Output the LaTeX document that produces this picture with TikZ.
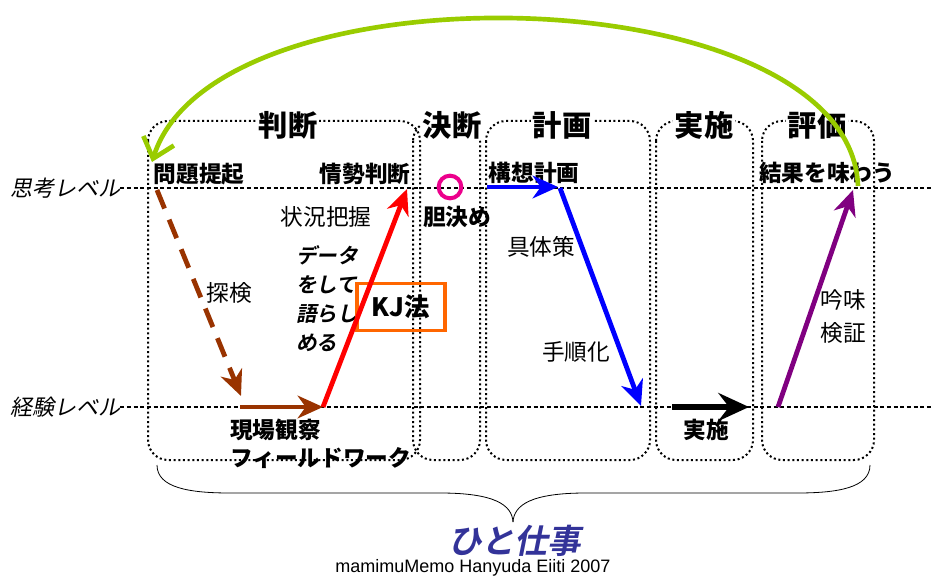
\documentclass[tikz,border=0pt]{standalone}
\usepackage{fontspec}
\setmainfont{Noto Sans CJK JP}[ItalicFont={Noto Sans CJK JP},ItalicFeatures={FakeSlant=0.2},
  BoldItalicFont={Noto Sans CJK JP Bold},BoldItalicFeatures={FakeSlant=0.2}]
\newfontfamily\creditfont{Liberation Sans}
\usetikzlibrary{arrows.meta,positioning}
\definecolor{tankenbrown}{HTML}{993300}
\definecolor{loopgreen}{HTML}{99CC00}
\definecolor{kjorange}{HTML}{FF6600}
\definecolor{hitoblue}{HTML}{333399}
\definecolor{ginmipurple}{HTML}{800080}

\begin{document}
\begin{tikzpicture}[x=0.75pt,y=-0.75pt,
                    head/.style={font=\fontsize{22}{24}\selectfont\bfseries,fill=white,inner sep=1pt},
                    bold label/.style={font=\fontsize{17}{20}\selectfont\bfseries,inner sep=0pt},
                    plain label/.style={font=\fontsize{17}{20}\selectfont,inner sep=0pt},
                    level label/.style={font=\fontsize{16.5}{20}\selectfont\itshape,inner sep=0pt},
                    phase/.style={rounded corners=15pt,line width=1.5pt,dash pattern=on 1.5pt off 2pt},
                    level line/.style={line width=0.8pt,dash pattern=on 3pt off 2pt},
                    flow/.style={line width=3.6pt,-{Stealth[length=19pt,width=17pt,inset=6pt]}}]
  \useasboundingbox (0,0) rectangle (932,581);

  \node[level label] (shikou) at (65,188) {思考レベル};
  \node[level label] (keiken) at (65,407) {経験レベル};
  \coordinate (shikou end) at (932,188);
  \coordinate (keiken end) at (932,407);
  \draw[level line] (shikou) -- (shikou end);
  \draw[level line] (keiken) -- (keiken end);

  \draw[phase] (148,121) rectangle (420,460);
  \draw[phase] (413,121) rectangle (480,460);
  \draw[phase] (486,121) rectangle (650,460);
  \draw[phase] (656,121) rectangle (753,460);
  \draw[phase] (762,121) rectangle (874,460);
  \node[head] (handan) at (288,125) {判断};
  \node[head] (ketsudan) at (452,125) {決断};
  \node[head] (keikaku) at (562,125) {計画};
  \node[head] (jisshi) at (704,125) {実施};
  \node[head] (hyouka) at (817,125) {評価};

  \node[bold label] (mondai) at (199,174) {問題提起};
  \node[bold label] (jousei) at (365,174) {情勢判断};
  \node[plain label] (joukyou) at (326,217) {状況把握};
  \node[plain label] (tanken) at (229,293) {探検};
  \node[font=\fontsize{15.5}{21.75}\selectfont\bfseries\itshape,align=left,inner sep=0pt,anchor=north west]
    (data) at (296,245) {データ\\をして\\語らし\\める};
  \node[draw=kjorange,line width=2.5pt,minimum width=66pt,minimum height=35pt,
        font=\fontsize{19}{22}\selectfont\bfseries] (kj) at (401,307) {KJ法};
  \node[bold label,anchor=west] (genba) at (230,430) {現場観察};
  \node[bold label,anchor=west] (field) at (230,458) {フィールドワーク};
  \node[draw=magenta,circle,line width=3pt,minimum size=17pt,inner sep=0pt] (maru) at (450,187) {};
  \node[bold label] (kimo) at (457,217) {胆決め};
  \node[bold label] (kousou) at (534,173) {構想計画};
  \node[plain label] (gutai) at (541,247) {具体策};
  \node[plain label] (tejun) at (576,352) {手順化};
  \node[bold label] (jikkou) at (706,430) {実施};
  \node[bold label] (kekka) at (827,173) {結果を味わう};
  \node[plain label] (ginmi) at (843,300) {吟味};
  \node[plain label,below=9pt of ginmi] (kenshou) {検証};

  \coordinate (p1) at (157,190);
  \coordinate (p2) at (241,396);
  \coordinate (p3) at (240,407);
  \coordinate (p4) at (323,407);
  \coordinate (p5) at (407,189);
  \coordinate (p6) at (487,187);
  \coordinate (p7) at (558,187);
  \coordinate (p8) at (560,188);
  \coordinate (p9) at (641,406);
  \coordinate (p10) at (672,407);
  \coordinate (p11) at (749,407);
  \coordinate (p12) at (778,407);
  \coordinate (p13) at (853,190);
  \coordinate (g1) at (858,186);
  \coordinate (g2) at (152,162);
  \draw[flow,tankenbrown,dash pattern=on 15pt off 9pt] (p1) -- (p2);
  \draw[flow,tankenbrown] (p3) -- (p4);
  \draw[flow,red] (p4) -- (p5);
  \draw[flow,blue] (p6) -- (p7);
  \draw[flow,blue] (p8) -- (p9);
  \draw[line width=4.5pt,-{Stealth[length=23pt,width=21pt,inset=8pt]}] (p10) -- (p11);
  \draw[flow,ginmipurple] (p12) -- (p13);
  \draw[loopgreen,line width=3.5pt,-{Straight Barb[length=14pt,width=24pt]}]
    (g1) .. controls (850,-25) and (215,-40) .. (g2);

  \coordinate (b1) at (157,465);
  \coordinate (b2) at (870,465);
  \coordinate (btip) at (513,522);
  \draw[line width=0.6pt] (b1) .. controls (157,488) and (190,493) .. (230,493) -- (440,493)
    .. controls (495,493) and (512,505) .. (btip);
  \draw[line width=0.6pt] (b2) .. controls (870,488) and (837,493) .. (797,493) -- (586,493)
    .. controls (531,493) and (514,505) .. (btip);
  \node[font=\fontsize{25}{30}\selectfont\bfseries\itshape,text=hitoblue,inner sep=0pt] (hito) at (515,541) {ひと仕事};
  \node[font=\creditfont\fontsize{13.5}{16}\selectfont,inner sep=0pt] (credit) at (473,568) {mamimuMemo Hanyuda Eiiti 2007};
\end{tikzpicture}
\end{document}
